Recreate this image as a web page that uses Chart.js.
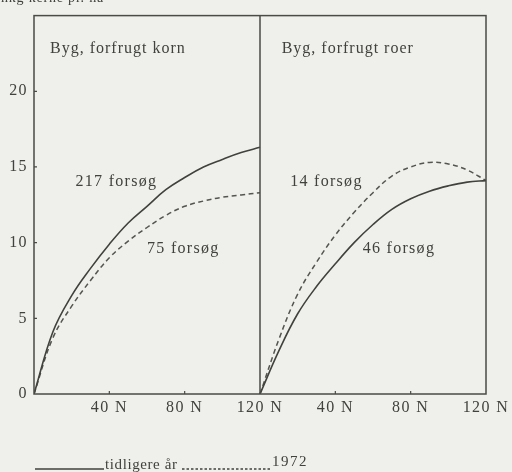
<!DOCTYPE html>
<html>
<head>
<meta charset="utf-8">
<script src="https://cdn.jsdelivr.net/npm/chart.js@4/dist/chart.umd.min.js"></script>
<style>
  body { margin: 0; background: #efefec; }
  #wrap { width: 512px; height: 472px; }
</style>
</head>
<body>
<div id="wrap"><canvas id="c"></canvas></div>
<script>
// N-tilførsel (kg N pr. ha) og merudbytte, hkg kerne pr. ha
const N = [0, 10, 20, 30, 40, 50, 60, 70, 80, 90, 100, 110, 120];
const kornTidligere = [0, 4.1, 6.5, 8.3, 9.9, 11.3, 12.4, 13.5, 14.3, 15.0, 15.5, 15.95, 16.3];
const korn1972 = [0, 3.7, 5.8, 7.5, 9.0, 10.1, 11.0, 11.8, 12.4, 12.75, 13.0, 13.15, 13.3];
const roerTidligere = [0, 2.85, 5.3, 7.1, 8.6, 10.0, 11.2, 12.2, 12.9, 13.4, 13.75, 14.0, 14.1];
const roer1972 = [0, 3.6, 6.6, 8.7, 10.5, 12.0, 13.3, 14.4, 15.0, 15.3, 15.2, 14.8, 14.1];

const yTicks = [0, 5, 10, 15, 20];
const xTicks = [40, 80, 120];
const panelTitles = ['Byg, forfrugt korn', 'Byg, forfrugt roer'];
const legendLabels = ['tidligere år', '1972'];

// højre panel ligger efter venstre på samme akse
const PANEL = 120;
const INK = '#41413d';
const SERIF = '"Liberation Serif", "DejaVu Serif", serif';

const pts = (xs, ys, off) => xs.map((x, i) => ({ x: x + off, y: ys[i] }));

const solid = { borderColor: INK, borderWidth: 1.6, pointRadius: 0, tension: 0.4, fill: false };
const dashed = { ...solid, borderColor: '#55554f', borderWidth: 1.5, borderDash: [5, 3.5] };

const datasets = [
    { ...solid, label: legendLabels[0], data: pts(N, kornTidligere, 0) },
    { ...dashed, label: legendLabels[1], data: pts(N, korn1972, 0) },
    { ...solid, label: legendLabels[0], data: pts(N, roerTidligere, PANEL) },
    { ...dashed, label: legendLabels[1], data: pts(N, roer1972, PANEL) }
];

// tekster i plottet (dataenheder)
const notes = [
    { text: '217 forsøg', x: 22, y: 14.0 },
    { text: '75 forsøg', x: 60, y: 9.6 },
    { text: '14 forsøg', x: 136, y: 14.0 },
    { text: '46 forsøg', x: 174.5, y: 9.6 }
];

const decor = {
    id: 'decor',
    beforeDraw(chart) {
        chart.ctx.letterSpacing = '1.4px';
    },
    afterDatasetsDraw(chart) {
        const { ctx, chartArea: a, scales: { x, y } } = chart;
        ctx.save();
        ctx.strokeStyle = '#4a4a46';
        ctx.lineWidth = 1.5;
        ctx.strokeRect(a.left, a.top, a.right - a.left, a.bottom - a.top);
        const mid = x.getPixelForValue(PANEL);
        ctx.beginPath();
        ctx.moveTo(mid, a.top);
        ctx.lineTo(mid, a.bottom);
        ctx.stroke();
        // små streger inden for rammen
        ctx.lineWidth = 1.2;
        ctx.beginPath();
        yTicks.slice(1).forEach(v => {
            const py = y.getPixelForValue(v);
            ctx.moveTo(a.left, py);
            ctx.lineTo(a.left + 3, py);
        });
        [0, PANEL].forEach(off => xTicks.slice(0, 2).forEach(v => {
            const px = x.getPixelForValue(v + off);
            ctx.moveTo(px, a.bottom);
            ctx.lineTo(px, a.bottom - 3);
        }));
        ctx.stroke();
        ctx.restore();
    },
    afterDraw(chart) {
        const { ctx, scales: { x, y } } = chart;
        ctx.save();
        ctx.fillStyle = INK;
        ctx.textBaseline = 'middle';
        ctx.textAlign = 'left';
        ctx.font = '16px ' + SERIF;
        ctx.letterSpacing = '1px';
        ctx.fillText(panelTitles[0], x.getPixelForValue(8.5), y.getPixelForValue(22.8));
        ctx.fillText(panelTitles[1], x.getPixelForValue(PANEL + 11.5), y.getPixelForValue(22.8));
        ctx.letterSpacing = '1.3px';
        notes.forEach(n => ctx.fillText(n.text, x.getPixelForValue(n.x), y.getPixelForValue(n.y)));

        // aksetitel, delvis skåret af i toppen
        ctx.letterSpacing = '0.8px';
        ctx.textBaseline = 'alphabetic';
        ctx.font = '14px ' + SERIF;
        ctx.fillText('hkg kerne pr. ha', 1, 2);

        // signaturforklaring
        const ly = 469;
        ctx.strokeStyle = INK;
        ctx.lineWidth = 1.6;
        ctx.beginPath();
        ctx.moveTo(35, ly);
        ctx.lineTo(104, ly);
        ctx.stroke();
        ctx.font = '15px ' + SERIF;
        ctx.letterSpacing = '0.6px';
        ctx.fillText(legendLabels[0], 105, 469);
        ctx.setLineDash([2.5, 2]);
        ctx.lineWidth = 1.3;
        ctx.beginPath();
        ctx.moveTo(182, ly);
        ctx.lineTo(271, ly);
        ctx.stroke();
        ctx.letterSpacing = '1.5px';
        ctx.fillText(legendLabels[1], 272, 466);
        ctx.restore();
        ctx.letterSpacing = '0px';
    }
};

new Chart(document.getElementById('c'), {
    type: 'line',
    data: { datasets },
    options: {
        responsive: true,
        maintainAspectRatio: false,
        animation: false,
        layout: { padding: { top: 12, right: 26, left: 0, bottom: 0 } },
        plugins: { legend: { display: false }, tooltip: { enabled: false } },
        scales: {
            x: {
                type: 'linear',
                min: 0,
                max: 2 * PANEL,
                grid: { display: false, drawTicks: false },
                border: { display: false },
                afterFit: s => { s.height = 78; },
                afterBuildTicks: s => {
                    s.ticks = [0, PANEL].flatMap(off => xTicks.map(v => ({ value: v + off })));
                },
                ticks: {
                    autoSkip: false,
                    maxRotation: 0,
                    padding: 4,
                    color: INK,
                    font: { family: SERIF, size: 16 },
                    callback: v => ((v - 1) % PANEL + 1) + ' N'
                }
            },
            y: {
                min: 0,
                max: 25,
                grid: { display: false, drawTicks: false },
                border: { display: false },
                afterFit: s => { s.width = 34; },
                afterBuildTicks: s => { s.ticks = yTicks.map(v => ({ value: v })); },
                ticks: {
                    padding: 6,
                    color: INK,
                    font: { family: SERIF, size: 16 }
                }
            }
        }
    },
    plugins: [decor]
});
</script>
</body>
</html>
